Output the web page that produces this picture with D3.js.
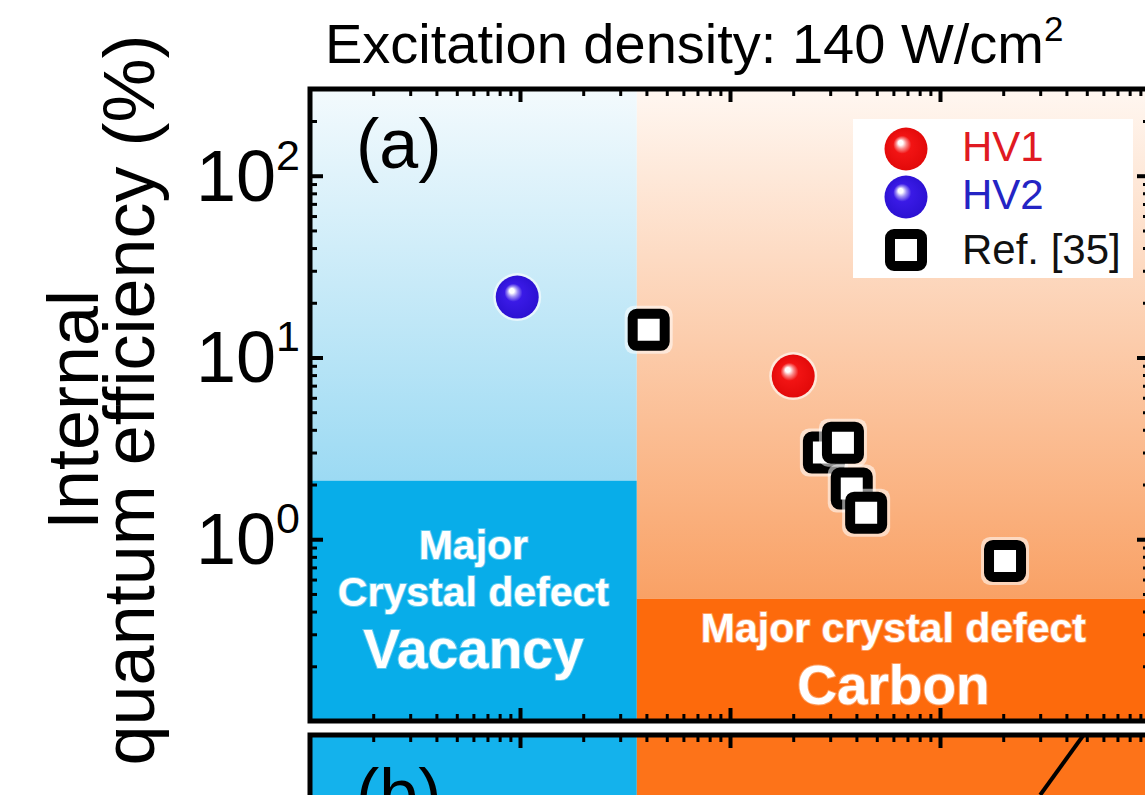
<!DOCTYPE html>
<html>
<head>
<meta charset="utf-8">
<script src="https://cdn.jsdelivr.net/npm/d3@7"></script>
<style>
	body { margin: 0; background: #fff; }
	text { font-family: "Liberation Sans", Arial, sans-serif; }
</style>
</head>
<body>
<svg id="chart" width="1145" height="795"></svg>
<script>
// values
var hv1X = [2.0e16];
var hv1Y = [7.9];
var hv2X = [9.7e14];
var hv2Y = [21.5];
var refX = [4.1e15, 2.8e16, 3.45e16, 3.8e16, 4.45e16, 2.04e17];
var refY = [14.2, 3.0, 3.4, 1.9, 1.4, 0.76];
var regionSplit = [3.6e15];          // vacancy | carbon boundary
var solidLevels = [2.1, 0.47];       // top of solid blue, top of solid orange
var yTicks = [1, 10, 100];
var yTickLabels = ['0', '1', '2'];
var panelBX = [3.0e17, 6.0e17];
var panelBY = [2200, 20000];

(function () {
	var svg = d3.select('#chart');
	var left = 310, right = 1150, top = 89, bottom = 721;
	var topB = 735;

	var x = d3.scaleLog().domain([1e14, 1e18]).range([left, right]);
	var y = d3.scaleLog().domain([0.1, 300]).range([bottom, top]);
	var yB = d3.scaleLog().domain([1e4, 1]).range([topB, 1100]);

	var defs = svg.append('defs');
	function vgrad(id, c0, c1) {
		var g = defs.append('linearGradient').attr('id', id)
			.attr('x1', 0).attr('y1', 0).attr('x2', 0).attr('y2', 1);
		g.append('stop').attr('offset', 0).attr('stop-color', c0);
		g.append('stop').attr('offset', 1).attr('stop-color', c1);
	}
	vgrad('blueFade', '#f3fafd', '#9cdaf3');
	vgrad('orangeFade', '#fff7f1', '#f9a165');

	function ball(id, c, dark) {
		var g = defs.append('radialGradient').attr('id', id)
			.attr('cx', '50%').attr('cy', '50%').attr('r', '55%')
			.attr('fx', '36%').attr('fy', '34%');
		g.append('stop').attr('offset', 0).attr('stop-color', '#ffffff');
		g.append('stop').attr('offset', 0.1).attr('stop-color', '#ffffff');
		g.append('stop').attr('offset', 0.22).attr('stop-color', d3.interpolateRgb('#ffffff', c)(0.5));
		g.append('stop').attr('offset', 0.38).attr('stop-color', c);
		g.append('stop').attr('offset', 1).attr('stop-color', dark);
	}
	ball('redBall', '#f21414', '#e00808');
	ball('blueBall', '#3a1ae6', '#2a10d0');

	defs.append('clipPath').attr('id', 'clipA').append('rect')
		.attr('x', left).attr('y', top).attr('width', right - left).attr('height', bottom - top);
	defs.append('clipPath').attr('id', 'clipB').append('rect')
		.attr('x', left).attr('y', topB).attr('width', right - left).attr('height', 200);

	// panel (a) backgrounds
	var bg = svg.append('g').attr('clip-path', 'url(#clipA)');
	bg.append('rect')
		.attr('x', left).attr('y', top)
		.attr('width', x(regionSplit[0]) - left)
		.attr('height', y(solidLevels[0]) - top)
		.attr('fill', 'url(#blueFade)');
	bg.append('rect')
		.attr('x', left).attr('y', y(solidLevels[0]))
		.attr('width', x(regionSplit[0]) - left)
		.attr('height', bottom - y(solidLevels[0]))
		.attr('fill', '#08ade9');
	bg.append('rect')
		.attr('x', x(regionSplit[0])).attr('y', top)
		.attr('width', right - x(regionSplit[0]))
		.attr('height', y(solidLevels[1]) - top)
		.attr('fill', 'url(#orangeFade)');
	bg.append('rect')
		.attr('x', x(regionSplit[0])).attr('y', y(solidLevels[1]))
		.attr('width', right - x(regionSplit[0]))
		.attr('height', bottom - y(solidLevels[1]))
		.attr('fill', '#fd6a0c');

	// panel (b) backgrounds
	var bgB = svg.append('g').attr('clip-path', 'url(#clipB)');
	bgB.append('rect')
		.attr('x', left).attr('y', topB)
		.attr('width', x(regionSplit[0]) - left).attr('height', 200)
		.attr('fill', '#14b2ec');
	bgB.append('rect')
		.attr('x', x(regionSplit[0])).attr('y', topB)
		.attr('width', right - x(regionSplit[0])).attr('height', 200)
		.attr('fill', '#fd7319');
	bgB.append('path')
		.datum(d3.zip(panelBX, panelBY))
		.attr('d', d3.line().x(function (d) { return x(d[0]); }).y(function (d) { return yB(d[1]); }))
		.attr('fill', 'none').attr('stroke', '#000').attr('stroke-width', 4);

	// text inside regions
	var mid1 = (left + x(regionSplit[0])) / 2;
	var mid2 = (x(regionSplit[0]) + right) / 2;
	var labels = [
		{t: 'Major', x: mid1, y: 559, s: 41},
		{t: 'Crystal defect', x: mid1, y: 606, s: 41},
		{t: 'Vacancy', x: mid1, y: 668, s: 55},
		{t: 'Major crystal defect', x: mid2, y: 642, s: 41},
		{t: 'Carbon', x: mid2, y: 704, s: 55}
	];
	svg.append('g').selectAll('text')
		.data(labels)
		.enter().append('text')
		.attr('x', function (d) { return d.x; })
		.attr('y', function (d) { return d.y; })
		.attr('font-size', function (d) { return d.s; })
		.attr('font-weight', 'bold')
		.attr('text-anchor', 'middle')
		.attr('fill', '#fff')
		.attr('stroke', 'rgba(255,255,255,0.35)')
		.attr('stroke-width', 2)
		.text(function (d) { return d.t; });

	// ticks
	function minorTicks(lo, hi) {
		var out = [];
		for (var p = lo; p < hi; p++) {
			for (var m = 2; m <= 9; m++) out.push(m * Math.pow(10, p));
		}
		return out;
	}
	var xMajor = [1e15, 1e16, 1e17];
	var xMinor = minorTicks(14, 18);
	var yMinor = minorTicks(-1, 3).filter(function (v) { return v <= 300; });

	function tickGroup(axis, tx, ty) {
		var g = svg.append('g').attr('transform', 'translate(' + tx + ',' + ty + ')').call(axis);
		g.select('.domain').remove();
		g.selectAll('text').remove();
		g.selectAll('line').attr('stroke', '#000');
		return g;
	}
	tickGroup(d3.axisBottom(x).tickValues(xMajor).tickSize(-13).tickSizeOuter(0), 0, bottom).selectAll('line').attr('stroke-width', 4);
	tickGroup(d3.axisBottom(x).tickValues(xMinor).tickSize(-7).tickSizeOuter(0), 0, bottom).selectAll('line').attr('stroke-width', 3);
	tickGroup(d3.axisTop(x).tickValues(xMajor).tickSize(-13).tickSizeOuter(0), 0, top).selectAll('line').attr('stroke-width', 4);
	tickGroup(d3.axisTop(x).tickValues(xMinor).tickSize(-7).tickSizeOuter(0), 0, top).selectAll('line').attr('stroke-width', 3);
	tickGroup(d3.axisTop(x).tickValues(xMajor).tickSize(-13).tickSizeOuter(0), 0, topB).selectAll('line').attr('stroke-width', 4);
	tickGroup(d3.axisTop(x).tickValues(xMinor).tickSize(-7).tickSizeOuter(0), 0, topB).selectAll('line').attr('stroke-width', 3);
	tickGroup(d3.axisLeft(y).tickValues(yTicks).tickSize(-13).tickSizeOuter(0), left, 0).selectAll('line').attr('stroke-width', 4);
	tickGroup(d3.axisLeft(y).tickValues(yMinor).tickSize(-7).tickSizeOuter(0), left, 0).selectAll('line').attr('stroke-width', 3);
	tickGroup(d3.axisRight(y).tickValues(yTicks).tickSize(-13).tickSizeOuter(0), right, 0).selectAll('line').attr('stroke-width', 4);
	tickGroup(d3.axisRight(y).tickValues(yMinor).tickSize(-7).tickSizeOuter(0), right, 0).selectAll('line').attr('stroke-width', 3);

	// frames
	svg.append('rect')
		.attr('x', left).attr('y', top)
		.attr('width', right - left).attr('height', bottom - top)
		.attr('fill', 'none').attr('stroke', '#000').attr('stroke-width', 5);
	svg.append('path')
		.attr('d', 'M' + left + ',' + 800 + 'V' + topB + 'H' + right)
		.attr('fill', 'none').attr('stroke', '#000').attr('stroke-width', 5);

	// y tick labels
	var yl = svg.append('g').selectAll('text')
		.data(yTicks)
		.enter().append('text')
		.attr('x', 300)
		.attr('y', function (d) { return y(d) + 25; })
		.attr('text-anchor', 'end')
		.attr('font-size', 72);
	yl.append('tspan').text('10');
	yl.append('tspan').attr('dy', -31).attr('font-size', 43)
		.text(function (d, i) { return yTickLabels[i]; });

	// title
	var title = svg.append('text')
		.attr('x', 325).attr('y', 63)
		.attr('font-size', 56);
	title.append('tspan').text('Excitation density: 140 W/cm');
	title.append('tspan').attr('dy', -22).attr('font-size', 35).text('2');

	// y axis title
	var yt = svg.append('text')
		.attr('transform', 'translate(98,400) rotate(-90)')
		.attr('text-anchor', 'middle')
		.attr('font-size', 72);
	yt.append('tspan').attr('x', -10).attr('y', 0).text('Internal');
	yt.append('tspan').attr('x', 0).attr('y', 56).text('quantum efficiency (%)');

	// panel labels
	svg.append('text').attr('x', 356).attr('y', 168).attr('font-size', 70).text('(a)');
	svg.append('text').attr('x', 356).attr('y', 818).attr('font-size', 70).text('(b)');

	// markers
	var pts = svg.append('g').attr('clip-path', 'url(#clipA)');
	function squares(g, data) {
		var s = g.selectAll('g.sq').data(data).enter().append('g').attr('class', 'sq')
			.attr('transform', function (d) { return 'translate(' + d[0] + ',' + d[1] + ')'; });
		s.append('rect')
			.attr('x', -24).attr('y', -24).attr('width', 48).attr('height', 48).attr('rx', 9)
			.attr('fill', 'rgba(255,255,255,0.55)');
		s.append('rect')
			.attr('x', -16).attr('y', -16).attr('width', 32).attr('height', 32).attr('rx', 4)
			.attr('fill', '#fff').attr('stroke', '#000').attr('stroke-width', 10);
	}
	function balls(g, data, fill) {
		var b = g.selectAll('g.' + fill).data(data).enter().append('g').attr('class', fill)
			.attr('transform', function (d) { return 'translate(' + d[0] + ',' + d[1] + ')'; });
		b.append('circle').attr('r', 24).attr('fill', 'rgba(255,255,255,0.6)');
		b.append('circle').attr('r', 21.5).attr('fill', 'url(#' + fill + ')');
	}
	squares(pts, refX.map(function (v, i) { return [x(v), y(refY[i])]; }));
	balls(pts, hv1X.map(function (v, i) { return [x(v), y(hv1Y[i])]; }), 'redBall');
	balls(pts, hv2X.map(function (v, i) { return [x(v), y(hv2Y[i])]; }), 'blueBall');

	// legend
	var lg = svg.append('g');
	lg.append('rect').attr('x', 853).attr('y', 119).attr('width', 280).attr('height', 159).attr('fill', '#fff');
	balls(lg, [[906, 149]], 'redBall');
	balls(lg, [[906, 197]], 'blueBall');
	squares(lg, [[906, 250]]);
	var legendText = [['HV1', '#e01a22', 161], ['HV2', '#2424c4', 209], ['Ref. [35]', '#111', 264]];
	lg.selectAll('text').data(legendText).enter().append('text')
		.attr('x', 962).attr('y', function (d) { return d[2]; })
		.attr('font-size', 42)
		.attr('fill', function (d) { return d[1]; })
		.text(function (d) { return d[0]; });
}());
</script>
</body>
</html>
